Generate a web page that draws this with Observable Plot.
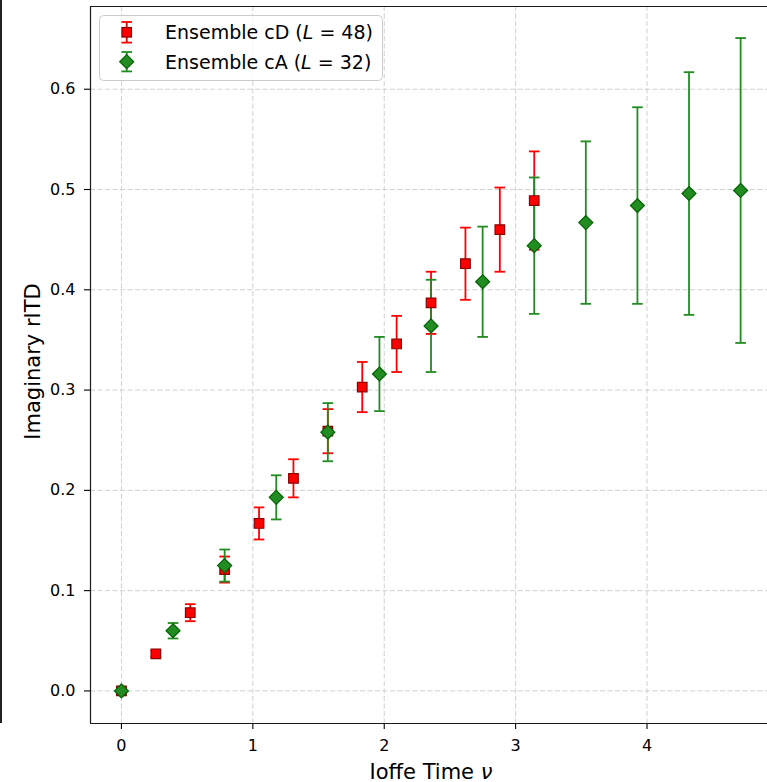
<!DOCTYPE html>
<html>
<head>
<meta charset="utf-8">
<script src="https://cdn.jsdelivr.net/npm/d3@7"></script>
<script src="https://cdn.jsdelivr.net/npm/@observablehq/plot@0.6"></script>
<style>
  html, body { margin: 0; padding: 0; background: #fff; }
  #wrap { position: relative; width: 767px; height: 782px; overflow: hidden; font-family: "DejaVu Sans", sans-serif; }
  #edge { position: absolute; left: 0; top: 0; width: 1.6px; height: 723px; background: #222; }
  #legend { position: absolute; left: 99px; top: 15px; }
</style>
</head>
<body>
<div id="wrap">
  <div id="edge"></div>
  <div id="chart"></div>
  <svg id="legend" width="285" height="67"></svg>
</div>
<script>
// Imaginary part of the reduced Ioffe-time distribution on two ensembles.
// Ensemble cD (L = 48): Ioffe times ν = 2πn/48
const nuCD  = [0, 0.2618, 0.5236, 0.7854, 1.0472, 1.3090, 1.5708, 1.8326, 2.0944, 2.3562, 2.6180, 2.8798, 3.1416];
const imCD  = [0, 0.037, 0.078, 0.121, 0.167, 0.212, 0.259, 0.303, 0.346, 0.387, 0.426, 0.460, 0.489];
const errCD = [0, 0.003, 0.0085, 0.013, 0.016, 0.019, 0.022, 0.025, 0.028, 0.031, 0.036, 0.042, 0.049];

// Ensemble cA (L = 32): Ioffe times ν = 2πn/32
const nuCA  = [0, 0.3927, 0.7854, 1.1781, 1.5708, 1.9635, 2.3562, 2.7489, 3.1416, 3.5343, 3.9270, 4.3197, 4.7124];
const imCA  = [0, 0.060, 0.125, 0.193, 0.258, 0.316, 0.364, 0.408, 0.444, 0.467, 0.484, 0.496, 0.499];
const errCA = [0, 0.0077, 0.016, 0.022, 0.029, 0.037, 0.046, 0.055, 0.068, 0.081, 0.098, 0.121, 0.152];

const seriesNames = ["Ensemble cD", "Ensemble cA"];
const seriesL = [48, 32];

const xTicks = [0, 1, 2, 3, 4];
const yTicks = [0, 0.1, 0.2, 0.3, 0.4, 0.5, 0.6];
const xDomain = [-0.2356, 4.917];
const yDomain = [-0.0325, 0.6825];

const RED = "#ff0000", RED_EDGE = "#8b0000";
const GREEN = "#228b22", GREEN_EDGE = "#006400";

const toRows = (xs, ys, es) => xs.map((x, i) => ({x, y: ys[i], lo: ys[i] - es[i], hi: ys[i] + es[i]}));
const cd = toRows(nuCD, imCD, errCD);
const ca = toRows(nuCA, imCA, errCA);

// horizontal cap drawn at the ends of each error bar
const cap = {draw(ctx) { ctx.moveTo(-5.3, 0); ctx.lineTo(5.3, 0); }};

const errorMarks = (rows, color) => [
  Plot.ruleX(rows, {x: "x", y1: "lo", y2: "hi", stroke: color, strokeWidth: 1.8}),
  Plot.dot(rows, {x: "x", y: "hi", symbol: cap, stroke: color, strokeWidth: 1.8}),
  Plot.dot(rows, {x: "x", y: "lo", symbol: cap, stroke: color, strokeWidth: 1.8})
];

const grid = {stroke: "#d0d0d0", strokeOpacity: 1, strokeWidth: 1, strokeDasharray: "5,2.5"};

const chart = Plot.plot({
  width: 767,
  height: 782,
  marginLeft: 90,
  marginRight: 0,
  marginTop: 6,
  marginBottom: 59,
  style: {fontFamily: "DejaVu Sans", background: "transparent", color: "#000", overflow: "visible"},
  x: {domain: xDomain},
  y: {domain: yDomain},
  marks: [
    Plot.gridX(xTicks, grid),
    Plot.gridY(yTicks, grid),
    Plot.axisX(xTicks, {tickFormat: d3.format("d"), fontSize: 16, tickSize: 6, tickPadding: 10, label: null, strokeWidth: 1.1}),
    Plot.axisY(yTicks, {tickFormat: d3.format(".1f"), fontSize: 16, tickSize: 6, tickPadding: 9, label: null, strokeWidth: 1.1}),
    ...errorMarks(cd, RED),
    ...errorMarks(ca, GREEN),
    Plot.dot(cd, {x: "x", y: "y", symbol: "square", r: 5.4, fill: RED, stroke: RED_EDGE, strokeWidth: 1.2}),
    Plot.dot(ca, {x: "x", y: "y", symbol: "diamond2", r: 6.3, fill: GREEN, stroke: GREEN_EDGE, strokeWidth: 1.2}),
    // axes frame (left, bottom, top)
    Plot.ruleX([xDomain[0]], {stroke: "#1a1a1a", strokeWidth: 1.2}),
    Plot.ruleY([yDomain[0]], {stroke: "#1a1a1a", strokeWidth: 1.2}),
    Plot.ruleY([yDomain[1]], {stroke: "#1a1a1a", strokeWidth: 1.2}),
    Plot.text(["Ioffe Time ν"], {frameAnchor: "bottom", textAnchor: "middle", lineAnchor: "bottom", dx: 2, dy: 55, fontSize: 21, fill: "#000"}),
    Plot.text(["Imaginary rITD"], {frameAnchor: "left", textAnchor: "middle", lineAnchor: "bottom", rotate: -90, dx: -51, dy: -3.5, fontSize: 21, fill: "#000"})
  ]
});
document.getElementById("chart").appendChild(chart);

// set the Greek ν of the x label in italic, as in math notation
d3.select(chart).selectAll("text").each(function() {
  if (this.textContent === "Ioffe Time ν") {
    const t = d3.select(this);
    t.text("Ioffe Time ");
    t.append("tspan").attr("font-style", "italic").text("ν");
  }
});

// legend
const lg = d3.select("#legend");
lg.append("rect")
  .attr("x", 0.5).attr("y", 0.5).attr("width", 283).attr("height", 65).attr("rx", 4)
  .attr("fill", "rgba(255,255,255,0.8)").attr("stroke", "#cccccc").attr("stroke-width", 1);

const entries = [
  {name: seriesNames[0], L: seriesL[0], color: RED, edge: RED_EDGE, shape: "square", cy: 17.3, half: 10.3},
  {name: seriesNames[1], L: seriesL[1], color: GREEN, edge: GREEN_EDGE, shape: "diamond", cy: 46.7, half: 9.7}
];
const mx = 27.7;
entries.forEach(e => {
  const g = lg.append("g").attr("stroke-width", 1.8);
  g.append("line").attr("x1", mx).attr("x2", mx).attr("y1", e.cy - e.half).attr("y2", e.cy + e.half).attr("stroke", e.color);
  [e.cy - e.half, e.cy + e.half].forEach(y =>
    g.append("line").attr("x1", mx - 5.3).attr("x2", mx + 5.3).attr("y1", y).attr("y2", y).attr("stroke", e.color));
  if (e.shape === "square") {
    g.append("rect").attr("x", mx - 4.75).attr("y", e.cy - 4.75).attr("width", 9.5).attr("height", 9.5)
      .attr("fill", e.color).attr("stroke", e.edge).attr("stroke-width", 1.2);
  } else {
    const h = 7;
    g.append("path").attr("d", `M${mx},${e.cy - h}L${mx + h},${e.cy}L${mx},${e.cy + h}L${mx - h},${e.cy}Z`)
      .attr("fill", e.color).attr("stroke", e.edge).attr("stroke-width", 1.2);
  }
  const t = lg.append("text").attr("x", 66).attr("y", e.cy + 7).attr("font-size", 19)
    .attr("font-family", "DejaVu Sans").attr("fill", "#000");
  t.append("tspan").text(e.name + " (");
  t.append("tspan").attr("font-style", "italic").text("L");
  t.append("tspan").text(" = " + e.L + ")");
});
</script>
</body>
</html>
